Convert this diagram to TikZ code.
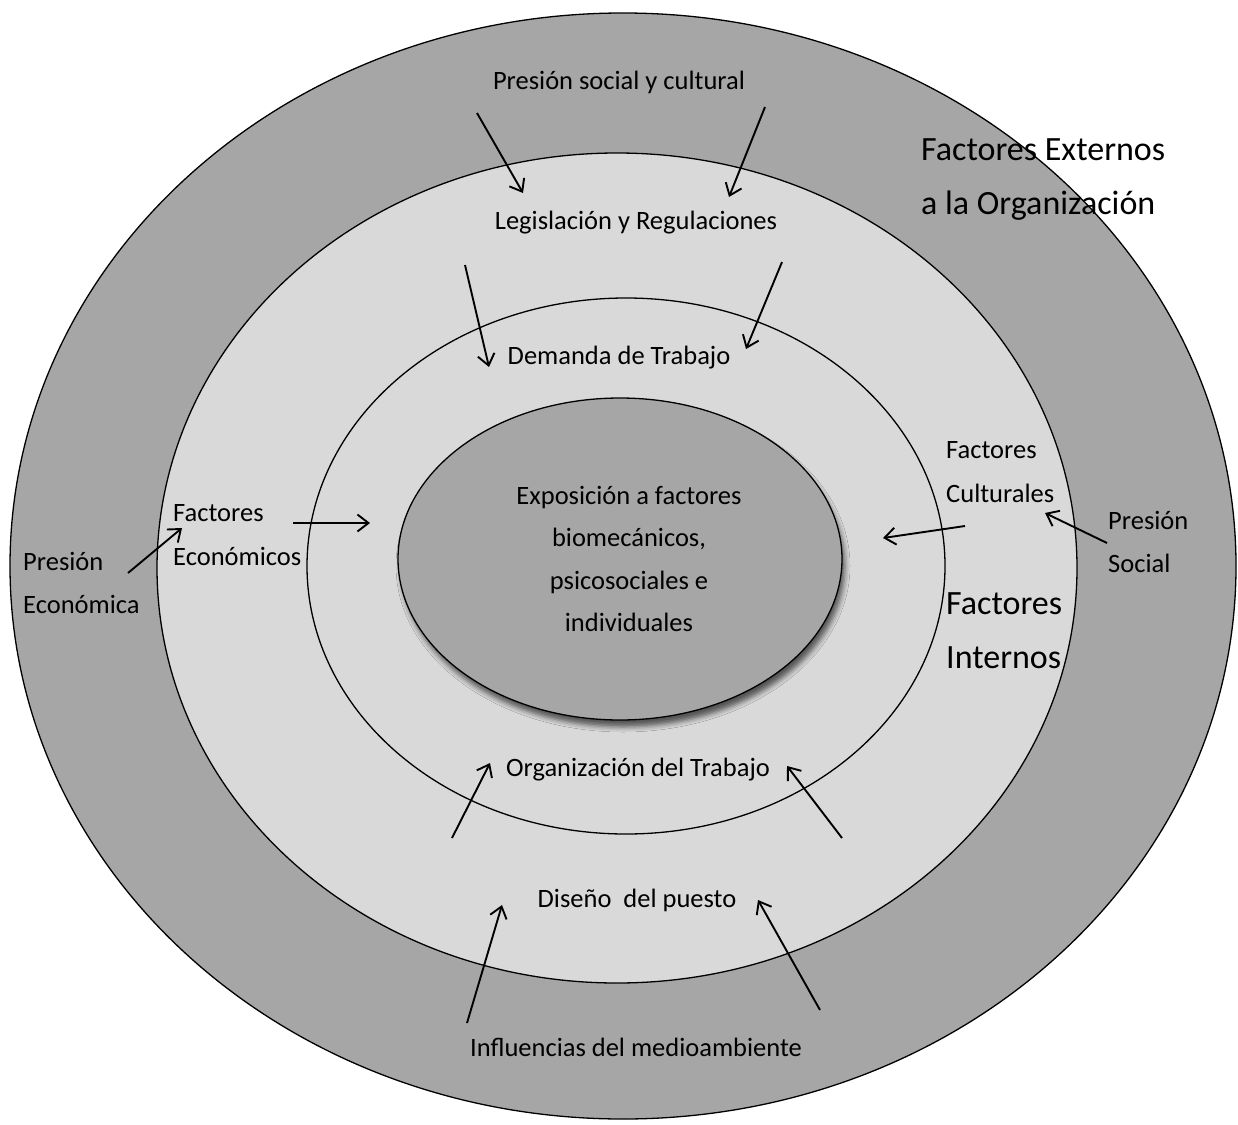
\documentclass[tikz,border=0pt]{standalone}
\usepackage{fontspec}
\setmainfont{Carlito}
\usetikzlibrary{arrows.meta,shadows.blur,shapes.geometric}
\definecolor{ringdark}{RGB}{166,166,166}
\definecolor{ringlight}{RGB}{217,217,217}
\begin{document}
\begin{tikzpicture}[x=1pt,y=-1pt,
  ring/.style={ellipse,draw=black,line width=1.3pt,inner sep=0pt},
  lbl/.style={inner sep=0pt,font=\fontsize{26.5}{43.5}\selectfont},
  biglbl/.style={inner sep=0pt,font=\fontsize{34}{54}\selectfont},
  push/.style={draw=black,line width=1.9pt,
    -{Straight Barb[length=11pt,width=17pt,line width=1.9pt]}}]
\useasboundingbox (0,0) rectangle (1238,1124);
\fill[white] (0,0) rectangle (1238,1124);

% nested rings
\node[ring,fill=ringdark,minimum width=1226pt,minimum height=1106pt] (outer) at (623,566) {};
\node[ring,fill=ringlight,minimum width=920pt,minimum height=830pt] (middle) at (617,568) {};
\node[ring,fill=ringlight,minimum width=638pt,minimum height=536pt] (inner) at (626,566) {};
\node[ring,fill=ringdark,minimum width=444pt,minimum height=322pt,
  blur shadow={shadow xshift=3pt,shadow yshift=-7pt,shadow blur radius=5pt,shadow opacity=60}] (core) at (620,559) {};

% core text
\node[lbl,align=center,font=\fontsize{26.5}{42.5}\selectfont] (coretext) at (629,559)
  {Exposición a factores\\biomecánicos,\\psicosociales e\\individuales};

% labels
\node[lbl] (psc) at (619,82) {Presión social y cultural};
\node[lbl] (leg) at (636,223) {Legislación y Regulaciones};
\node[lbl] (dem) at (619,358) {Demanda de Trabajo};
\node[biglbl,anchor=west,align=left] (ext) at (921,180) {Factores Externos\\a la Organización};
\node[lbl,anchor=west,align=left] (feco) at (173,535) {Factores\\Económicos};
\node[lbl,anchor=west,align=left] (peco) at (23,583) {Presión\\Económica};
\node[lbl,anchor=west,align=left] (fcul) at (946,472) {Factores\\Culturales};
\node[lbl,anchor=west,align=left] (psoc) at (1108,542) {Presión\\Social};
\node[biglbl,anchor=west,align=left] (fint) at (946,631) {Factores\\Internos};
\node[lbl] (org) at (638,770) {Organización del Trabajo};
\node[lbl] (dis) at (637,900) {Diseño\ \ del puesto};
\node[lbl] (inf) at (636,1047) {Influencias del medioambiente};

% arrow end points
\coordinate (a1s) at (477,113);  \coordinate (a1e) at (523,193);
\coordinate (a2s) at (765,107);  \coordinate (a2e) at (729,197);
\coordinate (a3s) at (465,265);  \coordinate (a3e) at (489,367);
\coordinate (a4s) at (782,262);  \coordinate (a4e) at (746,349);
\coordinate (a5s) at (293,523);  \coordinate (a5e) at (370,523);
\coordinate (a6s) at (128,573);  \coordinate (a6e) at (182,528);
\coordinate (a7s) at (965,526);  \coordinate (a7e) at (883,538);
\coordinate (a8s) at (1107,543); \coordinate (a8e) at (1045,513);
\coordinate (a9s) at (452,838);  \coordinate (a9e) at (490,763);
\coordinate (a10s) at (842,838); \coordinate (a10e) at (787,766);
\coordinate (a11s) at (467,1023);\coordinate (a11e) at (502,905);
\coordinate (a12s) at (820,1010);\coordinate (a12e) at (758,900);

\foreach \k in {1,...,12}{\draw[push] (a\k s) -- (a\k e);}
\end{tikzpicture}
\end{document}
